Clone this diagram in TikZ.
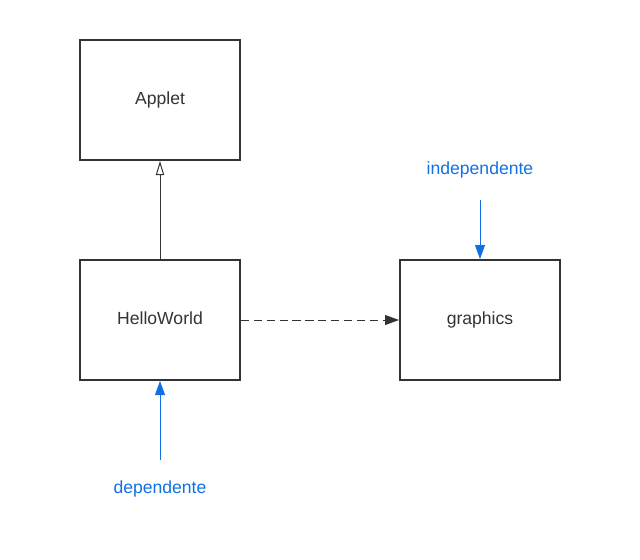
\documentclass[tikz,border=0pt]{standalone}
\usepackage{fontspec}
\setmainfont{Liberation Sans}
\usepackage{xcolor}
\usetikzlibrary{arrows.meta}
\definecolor{lblue}{HTML}{1071E5}
\definecolor{dgray}{HTML}{333333}

\begin{document}
\begin{tikzpicture}[x=0.03cm,y=-0.03cm,
    classbox/.style={draw=dgray, line width=1.6pt, minimum width=4.8cm, minimum height=3.6cm, inner sep=0pt, font=\fontsize{15}{18}\selectfont, text=dgray, text height=11pt, text depth=3pt},
    note/.style={text=lblue, font=\fontsize{15}{18}\selectfont, text height=11pt, text depth=3pt},
    link/.style={draw=dgray, line width=0.85pt},
    solidtip/.style={-{Triangle[length=12pt, width=8.5pt]}}]
            \useasboundingbox (0,0) rectangle (640,560);
            \node[classbox] (applet) at (160,100) {Applet};
            \node[classbox] (hello) at (160,320) {HelloWorld};
            \node[classbox] (graphics) at (480,320) {graphics};
            \node[note] (indep) at (480,169.5) {independente};
            \node[note] (dep) at (160,489) {dependente};
            \coordinate (indtail) at (480,200);
            \coordinate (deptail) at (160,460);
            \draw[link, -{Triangle[open, length=12pt, width=7pt]}] (hello.north) -- (applet.south);
            \draw[link, solidtip, dash pattern=on 7pt off 4pt] (hello.east) -- (graphics.west);
            \draw[draw=lblue, line width=0.85pt, solidtip] (indtail) -- (graphics.north);
            \draw[draw=lblue, line width=0.85pt, solidtip] (deptail) -- (hello.south);
        \end{tikzpicture}
\end{document}
